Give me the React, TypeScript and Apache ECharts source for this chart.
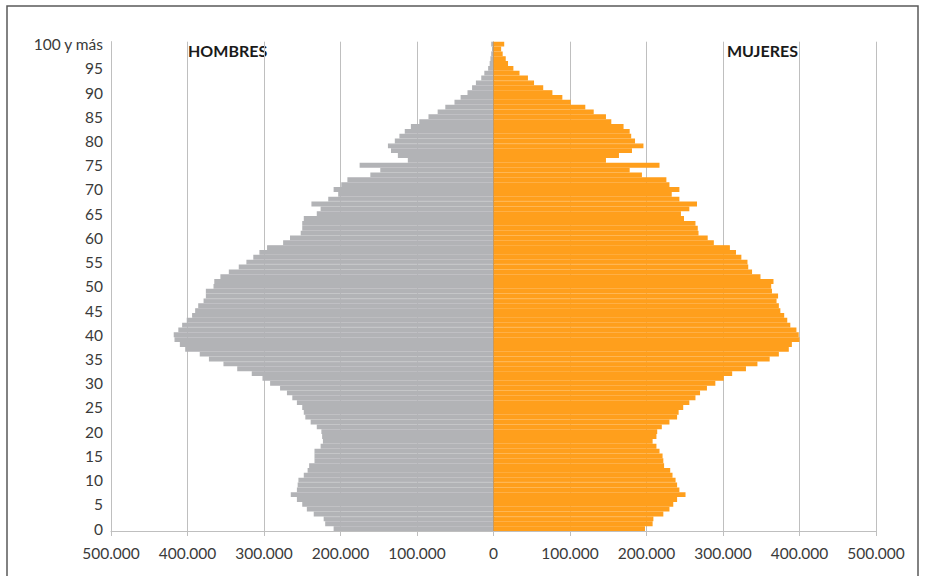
import React, { useEffect, useRef } from 'react';
import * as echarts from 'echarts';

// Age categories (0 .. 99, "100 y más")
const edades: string[] = Array.from({ length: 100 }, (_, i) => String(i)).concat(['100 y más']);

// Men by single year of age, 0 .. 100+
const hombres: number[] = [
  209000, 220000, 222000, 235000, 244000, 250000, 257000, 265000, 257000, 256000,
  255000, 248000, 243000, 241000, 234000, 234000, 234000, 226000, 223000, 224000,
  225000, 231000, 239000, 246000, 248000, 250000, 257000, 263000, 270000, 279000,
  292000, 302000, 316000, 335000, 353000, 372000, 384000, 403000, 410000, 417000,
  418000, 412000, 407000, 401000, 394000, 390000, 386000, 379000, 376000, 376000,
  366000, 365000, 357000, 346000, 333000, 323000, 314000, 306000, 296000, 275000,
  266000, 252000, 250000, 250000, 248000, 231000, 226000, 238000, 216000, 203000,
  209000, 199000, 191000, 161000, 148000, 175000, 112000, 125000, 134000, 138000,
  129000, 123000, 116000, 108000, 97000, 85000, 73000, 63000, 51000, 43000,
  34000, 28000, 23000, 16000, 12000, 7000, 5000, 4000, 3000, 2000,
  3000,
];

// Women by single year of age, 0 .. 100+
const mujeres: number[] = [
  198000, 208000, 209000, 222000, 230000, 235000, 240000, 251000, 243000, 240000,
  238000, 234000, 231000, 223000, 222000, 221000, 217000, 213000, 208000, 213000,
  214000, 220000, 230000, 240000, 242000, 248000, 256000, 264000, 270000, 279000,
  290000, 301000, 312000, 330000, 345000, 361000, 373000, 386000, 390000, 400000,
  399000, 396000, 388000, 384000, 380000, 375000, 373000, 370000, 372000, 364000,
  363000, 366000, 349000, 338000, 333000, 332000, 324000, 317000, 309000, 288000,
  280000, 268000, 267000, 264000, 249000, 245000, 256000, 266000, 243000, 233000,
  243000, 230000, 226000, 194000, 178000, 217000, 147000, 164000, 181000, 196000,
  185000, 180000, 178000, 170000, 154000, 147000, 131000, 120000, 101000, 90000,
  77000, 65000, 53000, 45000, 34000, 26000, 19000, 16000, 12000, 10000,
  14000,
];

const etiquetas = { hombres: 'HOMBRES', mujeres: 'MUJERES' };

const fmt = (v: number) =>
  String(Math.abs(v)).replace(/\B(?=(\d{3})+(?!\d))/g, '.');

const GRIS = '#b2b3b6';
const NARANJA = '#ff9f1c';

export default function App() {
  const ref = useRef<HTMLDivElement>(null);
  useEffect(() => {
    if (!ref.current) return;
    const chart = echarts.init(ref.current, null, { renderer: 'svg' });
    chart.setOption({
      animation: false,
      backgroundColor: '#ffffff',
      textStyle: { fontFamily: 'Lato' },
      grid: { left: 111, right: 49, top: 41.7, bottom: 45, containLabel: false },
      xAxis: {
        type: 'value',
        min: -500000,
        max: 500000,
        interval: 100000,
        axisLine: { show: true, lineStyle: { color: '#bfbfbf', width: 1 } },
        axisTick: { show: true, length: 5, lineStyle: { color: '#bfbfbf' } },
        splitLine: { show: true, lineStyle: { color: '#bfbfbf', width: 1 } },
        axisLabel: {
          formatter: fmt,
          fontSize: 15.5,
          color: '#3a3a3a',
          margin: 14,
          fontFamily: 'Lato',
        },
      },
      yAxis: {
        type: 'category',
        data: edades,
        boundaryGap: true,
        axisLine: { show: true, onZero: false, lineStyle: { color: '#bfbfbf' } },
        axisTick: { show: false },
        splitLine: { show: false },
        axisLabel: {
          interval: 4,
          fontSize: 15.5,
          color: '#3a3a3a',
          margin: 8,
          fontFamily: 'Lato',
        },
      },
      series: [
        {
          name: 'Hombres',
          type: 'bar',
          data: hombres.map((v) => -v),
          barGap: '-100%',
          barCategoryGap: '0%',
          itemStyle: { color: GRIS, borderColor: GRIS, borderWidth: 1.4 },
        },
        {
          name: 'Mujeres',
          type: 'bar',
          data: mujeres,
          barGap: '-100%',
          barCategoryGap: '0%',
          itemStyle: { color: NARANJA, borderColor: NARANJA, borderWidth: 1.4 },
          markLine: {
            silent: true,
            symbol: 'none',
            label: { show: false },
            lineStyle: { color: '#c9995c', width: 1, type: 'solid' },
            data: [{ xAxis: 0 }],
          },
        },
      ],
      graphic: [
        {
          type: 'rect',
          silent: true,
          shape: { x: 7, y: 6, width: 911, height: 620 },
          style: { fill: 'none', stroke: '#595959', lineWidth: 1.5 },
        },
        {
          type: 'text',
          x: 188,
          y: 50.5,
          style: {
            text: etiquetas.hombres,
            fontSize: 16,
            fontWeight: 'bold',
            fontFamily: 'Lato',
            fill: '#1a1a1a',
            align: 'left',
            verticalAlign: 'middle',
          },
        },
        {
          type: 'text',
          x: 727,
          y: 50.5,
          style: {
            text: etiquetas.mujeres,
            fontSize: 16,
            fontWeight: 'bold',
            fontFamily: 'Lato',
            fill: '#1a1a1a',
            align: 'left',
            verticalAlign: 'middle',
          },
        },
      ],
    });
    return () => chart.dispose();
  }, []);
  return (
    <div
      ref={ref}
      style={{ position: 'absolute', left: 0, top: 0, width: 925, height: 576, background: '#fff' }}
    />
  );
}
